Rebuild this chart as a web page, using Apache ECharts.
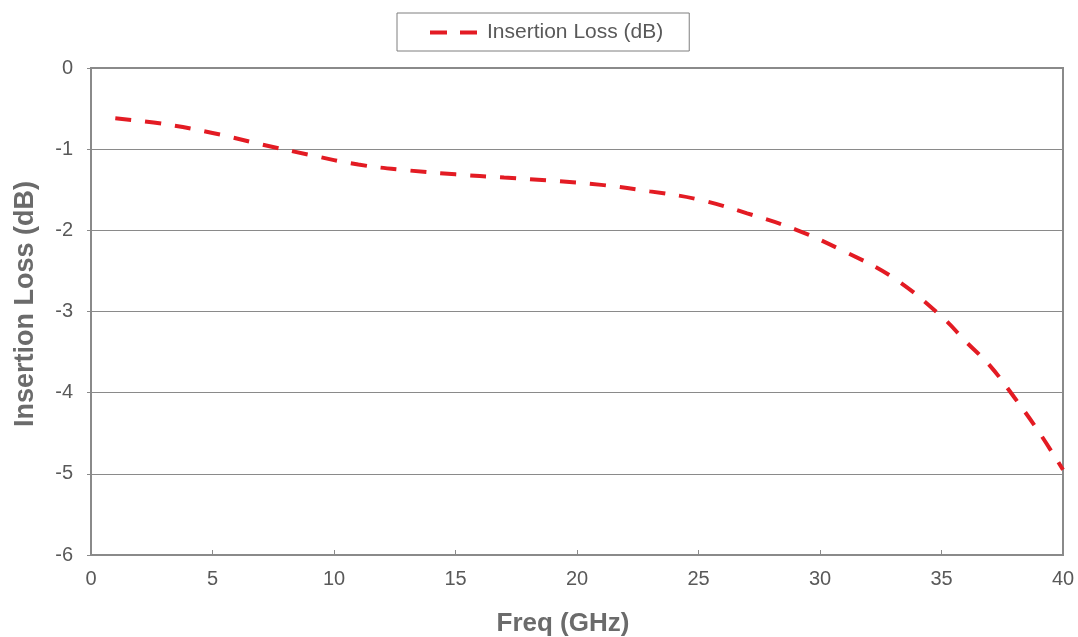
<!DOCTYPE html>
<html>
<head>
<meta charset="utf-8">
<script src="https://cdn.jsdelivr.net/npm/echarts@6/dist/echarts.min.js"></script>
<style>
html,body{margin:0;padding:0;background:#fff;}
#chart{width:1078px;height:637px;}
</style>
</head>
<body>
<div id="chart"></div>
<script>
var seriesName = 'Insertion Loss (dB)';
var freq = [1, 3, 5, 7, 9, 11, 13, 15, 17, 19, 21, 23, 25, 27, 29, 31, 33, 35, 36, 37, 38, 39, 40];
var loss = [-0.62, -0.69, -0.80, -0.94, -1.07, -1.19, -1.26, -1.31, -1.35, -1.39, -1.44, -1.52, -1.62, -1.79, -1.99, -2.26, -2.58, -3.06, -3.37, -3.67, -4.06, -4.48, -4.95];
var xTitle = 'Freq (GHz)';
var yTitle = 'Insertion Loss (dB)';

var chart = echarts.init(document.getElementById('chart'), null, {renderer: 'canvas'});
var font = '"Liberation Sans", Arial, sans-serif';
var gridColor = '#8a8a8a';
var red = '#e31b23';

var data = freq.map(function (f, i) { return [f, loss[i]]; });

chart.setOption({
  animation: false,
  backgroundColor: '#ffffff',
  textStyle: {fontFamily: font},
  grid: {
    left: 91, right: 15, top: 68, bottom: 82,
    show: true, borderColor: gridColor, borderWidth: 2, backgroundColor: 'transparent'
  },
  legend: {
    left: 397, top: 13,
    padding: [9, 26, 8, 33],
    borderColor: '#7f7f7f', borderWidth: 1,
    backgroundColor: '#fff',
    itemWidth: 47, itemHeight: 4,
    textStyle: {fontSize: 21, color: '#595959', fontFamily: font, padding: [0, 0, 0, 5]},
    data: [{name: seriesName, icon: 'path://M0,0H17V4H0Z M30,0H47V4H30Z', itemStyle: {color: red}}]
  },
  xAxis: {
    type: 'value', min: 0, max: 40, interval: 5,
    axisLine: {show: true, onZero: false, lineStyle: {color: gridColor, width: 2}},
    axisTick: {show: true, inside: true, length: 5, lineStyle: {color: gridColor, width: 1}},
    axisLabel: {fontSize: 20, color: '#595959', margin: 14, fontFamily: font},
    splitLine: {show: false}
  },
  yAxis: {
    type: 'value', min: -6, max: 0, interval: 1,
    axisLine: {show: true, onZero: false, lineStyle: {color: gridColor, width: 2}},
    axisTick: {show: true, inside: false, length: 4, lineStyle: {color: gridColor, width: 1}},
    axisLabel: {fontSize: 20, color: '#595959', margin: 18, fontFamily: font},
    splitLine: {show: true, lineStyle: {color: gridColor, width: 1}}
  },
  graphic: [
    {
      type: 'text', x: 563, y: 624,
      style: {text: xTitle, font: 'bold 26px ' + font, fill: '#6b6b6b', textAlign: 'center', textVerticalAlign: 'middle'}
    },
    {
      type: 'text', x: 26, y: 304, rotation: Math.PI / 2,
      style: {text: yTitle, font: 'bold 27px ' + font, fill: '#6b6b6b', textAlign: 'center', textVerticalAlign: 'middle'}
    }
  ],
  series: [{
    name: seriesName,
    type: 'line',
    data: data,
    smooth: 0.4,
    symbol: 'none',
    lineStyle: {color: red, width: 4, type: [16, 14], cap: 'butt'},
    itemStyle: {color: red}
  }]
});
</script>
</body>
</html>
